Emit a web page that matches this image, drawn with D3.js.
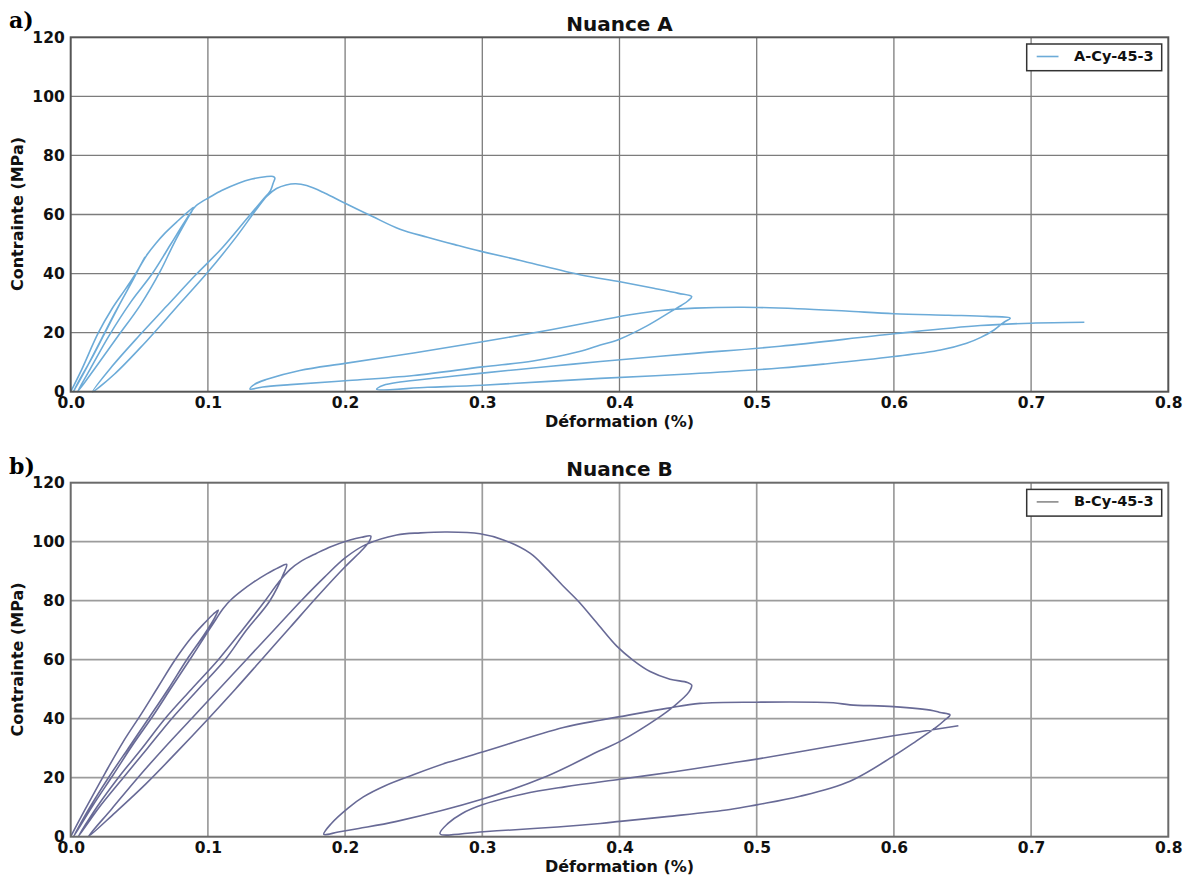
<!DOCTYPE html>
<html><head><meta charset="utf-8">
<script src="https://cdn.jsdelivr.net/npm/d3@7"></script>
<style>body{margin:0;background:#fff;} svg{display:block;}</style>
</head><body>
<svg id="chart" width="1190" height="878"></svg>
<script>
// ---------- tick values / labels ----------
const xTicks = [0, 0.1, 0.2, 0.3, 0.4, 0.5, 0.6, 0.7, 0.8];
const yTicks = [0, 20, 40, 60, 80, 100, 120];
const panelLabels = ["a)", "b)"];
const titles = ["Nuance A", "Nuance B"];
const seriesNames = ["A-Cy-45-3", "B-Cy-45-3"];
const xLabel = "Déformation (%)";
const yLabel = "Contrainte (MPa)";

// ---------- Nuance A : [déformation %, contrainte MPa] ----------
const A_load1 = [[0,0],[0.008,7.5],[0.02,19.8],[0.03,28],[0.04,34.8],[0.048,40.5],[0.054,45.5]];
const A_unload1 = [[0.052,43.8],[0.045,37.5],[0.035,29],[0.025,20],[0.015,11],[0.007,4.5],[0.002,0]];
const A_load2 = [[0.012,8.5],[0.022,17.5],[0.032,26.5],[0.042,35],[0.05,42],[0.056,46.6],[0.062,50.2],[0.0687,53.7],[0.078,57.8],[0.0865,61.3],[0.0894,62.4]];
const A_unload2 = [[0.0885,61.3],[0.085,58.5],[0.075,50],[0.0655,41],[0.051,29.5],[0.034,18.5],[0.019,8.8],[0.005,0]];
const A_load3 = [[0.014,7.5],[0.028,19],[0.044,30.5],[0.0595,40],[0.073,50],[0.083,57.5],[0.091,62.8],[0.0965,64.6],[0.1004,65.6],[0.11,68.1],[0.1223,70.6],[0.132,72],[0.1418,72.8],[0.1475,72.9],[0.1488,72.4]];
const A_unload3 = [[0.1475,70.5],[0.1455,68],[0.14,65],[0.13,59.5],[0.11,48.5],[0.091,39.5],[0.07,29],[0.05,19],[0.03,8.5],[0.016,0]];
const A_load4 = [[0.032,6],[0.053,16],[0.077,28.5],[0.1,40.5],[0.12,52],[0.135,61.5],[0.143,66.2],[0.15,68.8],[0.157,70],[0.164,70.4],[0.172,69.8],[0.185,67.3],[0.2,63.8],[0.22,59.3],[0.24,55],[0.26,52.3],[0.28,49.8],[0.2984,47.6],[0.33,44.2],[0.3712,39.6],[0.4004,37.2],[0.425,35],[0.443,33.3],[0.4526,32.2]];
const A_unload4 = [[0.45,30.8],[0.445,29.2],[0.438,27.3],[0.42,22.3],[0.40,17.8],[0.386,15.8],[0.37,13.5],[0.337,10.4],[0.30,8.4],[0.25,5.5],[0.2,3.7],[0.16,2.4],[0.14,1.6],[0.1307,0.9]];
const A_load5 = [[0.134,2.5],[0.143,4.2],[0.167,7.2],[0.2,9.6],[0.25,13.1],[0.3,16.9],[0.35,21],[0.386,24.2],[0.41,26.2],[0.43,27.5],[0.455,28.3],[0.49,28.6],[0.53,28.1],[0.565,27.3],[0.6,26.4],[0.64,25.9],[0.668,25.5],[0.6848,24.9]];
const A_unload5 = [[0.6805,23.6],[0.673,20.9],[0.663,18.3],[0.653,16.4],[0.634,14.1],[0.60,11.9],[0.55,9.4],[0.517,8.0],[0.45,6.0],[0.386,4.5],[0.3,2.2],[0.26,1.5],[0.223,0.8]];
const A_load6 = [[0.228,2.2],[0.24,3.3],[0.27,4.8],[0.3,6.3],[0.35,8.6],[0.386,10.2],[0.45,12.8],[0.517,15.4],[0.6,19.6],[0.663,22.4],[0.70,23.2],[0.7388,23.5]];

// ---------- Nuance B ----------
const B_load1 = [[0,0],[0.01,8.8],[0.025,21.5],[0.038,32],[0.0517,41.8],[0.064,51],[0.076,59.9],[0.088,67.5],[0.0979,72.6],[0.104,75.5],[0.1076,76.8]];
const B_unload1 = [[0.105,74.3],[0.097,68.3],[0.0846,60],[0.071,50],[0.0566,40],[0.042,30],[0.0275,20],[0.014,10],[0.002,0]];
const B_load2 = [[0.016,10.5],[0.031,21],[0.045,31],[0.06,41],[0.074,51],[0.0875,60.5],[0.1,69.5],[0.106,73.8],[0.111,77.3],[0.117,80.4],[0.125,83.5],[0.133,86.2],[0.1429,89.1],[0.1513,91.2],[0.1574,92.3]];
const B_unload2 = [[0.1555,89.5],[0.1452,80],[0.128,70],[0.1125,60],[0.093,50],[0.0736,40],[0.056,30],[0.0383,20],[0.02,9.5],[0.0055,0]];
const B_load3 = [[0.019,10],[0.0347,20],[0.052,30],[0.0687,40],[0.088,50],[0.1076,60],[0.125,70],[0.1417,80],[0.152,86.5],[0.16,90.6],[0.168,93.4],[0.1793,96.1],[0.19,98.4],[0.2036,100.6],[0.212,101.5],[0.2187,101.9]];
const B_unload3 = [[0.2175,100],[0.212,97],[0.2,91.5],[0.18,81.5],[0.16,71],[0.14,60.5],[0.12,50],[0.1003,40],[0.078,29],[0.055,18],[0.032,8],[0.0128,0]];
const B_load4 = [[0.03,9.5],[0.048,19.5],[0.068,30],[0.088,40],[0.108,50],[0.128,60],[0.148,70],[0.168,80],[0.185,88],[0.2,94.5],[0.215,99],[0.2376,102.3],[0.255,103],[0.2741,103.3],[0.2984,102.7],[0.3154,100.6],[0.3348,96.1],[0.347,90.8],[0.3591,84.9],[0.37,79.8],[0.3834,72.5],[0.398,64.6],[0.41,59.8],[0.4223,56],[0.4368,53.4],[0.4495,52.3],[0.4526,51.4]];
const B_unload4 = [[0.4505,49],[0.4393,44.1],[0.4296,40.7],[0.4004,32.3],[0.3859,29.2],[0.347,20.5],[0.2984,12.5],[0.2376,5.2],[0.21,2.8],[0.195,1.6],[0.1845,0.8]];
const B_load5 = [[0.19,4.5],[0.2024,9.8],[0.2133,13.5],[0.2292,17.3],[0.2497,21],[0.275,25.2],[0.3008,28.8],[0.3591,37],[0.3859,39.5],[0.4004,40.7],[0.4344,43.5],[0.4587,45.2],[0.5,45.6],[0.5558,45.4],[0.568,44.7],[0.5996,44.1],[0.6288,42.7],[0.6337,42.1],[0.6409,41.3]];
const B_unload5 = [[0.6365,39.3],[0.6314,37.3],[0.615,32],[0.5996,27.3],[0.568,18.8],[0.5316,13.7],[0.5,10.8],[0.4805,9.2],[0.4344,6.8],[0.4004,5.2],[0.3859,4.5],[0.3008,1.7],[0.2692,1.0]];
const B_load6 = [[0.275,4.5],[0.285,7.8],[0.3,10.8],[0.33,14.5],[0.36,16.9],[0.4004,19.5],[0.44,22],[0.4805,24.9],[0.5,26.3],[0.55,30.3],[0.5996,34.2],[0.647,37.6]];

const seriesA = [].concat(A_load1, A_unload1, A_load2, A_unload2, A_load3, A_unload3, A_load4, A_unload4, A_load5, A_unload5, A_load6);
const seriesB = [].concat(B_load1, B_unload1, B_load2, B_unload2, B_load3, B_unload3, B_load4, B_unload4, B_load5, B_unload5, B_load6);
const allSeries = [seriesA, seriesB];

// ---------- layout ----------
const svg = d3.select("#chart");
svg.append("rect").attr("width", 1190).attr("height", 878).attr("fill", "#fff");
const plotLeft = 70.7, plotRight = 1168.3;
const panels = [
  {top: 37.3, bottom: 391.7, dy: 0, color: "#6cabd8", legendColor: "#6cabd8", grid: "#7c7c7c", gridW: 1.3, frame: "#555"},
  {top: 482.7, bottom: 836.7, dy: 445.4, color: "#686a96", legendColor: "#8a8a8a", grid: "#9c9c9c", gridW: 1.7, frame: "#6a6a6a"}
];
const sans = "'DejaVu Sans', Verdana, sans-serif";

const x = d3.scaleLinear().domain([0, 0.8]).range([plotLeft, plotRight]);

panels.forEach((p, i) => {
  const y = d3.scaleLinear().domain([0, 120]).range([p.bottom, p.top]);
  const g = svg.append("g");

  // grid
  g.append("g").selectAll("line").data(xTicks.slice(1, -1)).join("line")
    .attr("x1", d => x(d)).attr("x2", d => x(d)).attr("y1", p.top).attr("y2", p.bottom)
    .attr("stroke", p.grid).attr("stroke-width", p.gridW);
  g.append("g").selectAll("line").data(yTicks.slice(1, -1)).join("line")
    .attr("y1", d => y(d)).attr("y2", d => y(d)).attr("x1", plotLeft).attr("x2", plotRight)
    .attr("stroke", p.grid).attr("stroke-width", p.gridW);

  // series
  const line = d3.line().x(d => x(d[0])).y(d => y(d[1])).curve(d3.curveCatmullRom.alpha(0.5));
  g.append("path").datum(allSeries[i]).attr("d", line)
    .attr("fill", "none").attr("stroke", p.color).attr("stroke-width", 1.6)
    .attr("stroke-linejoin", "round");

  // frame
  g.append("rect").attr("x", plotLeft).attr("y", p.top)
    .attr("width", plotRight - plotLeft).attr("height", p.bottom - p.top)
    .attr("fill", "none").attr("stroke", p.frame).attr("stroke-width", 2);

  // axes
  const xAxis = d3.axisBottom(x).tickValues(xTicks).tickFormat(d3.format(".1f")).tickSize(0).tickPadding(5);
  const gx = g.append("g").attr("transform", `translate(0,${p.bottom})`).call(xAxis);
  const yAxis = d3.axisLeft(y).tickValues(yTicks).tickFormat(d3.format("d")).tickSize(0).tickPadding(6);
  const gy = g.append("g").attr("transform", `translate(${plotLeft},0)`).call(yAxis);
  [gx, gy].forEach(ax => {
    ax.select(".domain").remove();
    ax.selectAll("text").attr("font-family", sans).attr("font-weight", "bold")
      .attr("font-size", "15.5px").attr("fill", "#111");
  });

  // title
  g.append("text").attr("x", (plotLeft + plotRight) / 2).attr("y", 30.6 + p.dy)
    .attr("text-anchor", "middle").attr("font-family", sans).attr("font-weight", "bold")
    .attr("font-size", "20px").attr("fill", "#111").text(titles[i]);

  // axis labels
  g.append("text").attr("x", (plotLeft + plotRight) / 2).attr("y", 427 + p.dy)
    .attr("text-anchor", "middle").attr("font-family", sans).attr("font-weight", "bold")
    .attr("font-size", "16px").attr("fill", "#111").text(xLabel);
  g.append("text").attr("transform", `translate(23.3,${214 + p.dy}) rotate(-90)`)
    .attr("text-anchor", "middle").attr("font-family", sans).attr("font-weight", "bold")
    .attr("font-size", "16px").attr("fill", "#111").text(yLabel);

  // panel label
  g.append("text").attr("x", 9).attr("y", 28.4 + p.dy)
    .attr("font-family", "'DejaVu Serif', 'Liberation Serif', serif").attr("font-weight", "bold")
    .attr("font-size", "22px").attr("fill", "#000").text(panelLabels[i]);

  // legend
  const lg = g.append("g").attr("transform", `translate(0,${p.dy})`);
  lg.append("rect").attr("x", 1026.7).attr("y", 44).attr("width", 135).attr("height", 26.7)
    .attr("fill", "#fff").attr("stroke", "#333").attr("stroke-width", 1.5);
  lg.append("line").attr("x1", 1036.7).attr("x2", 1058.5).attr("y1", 56.5).attr("y2", 56.5)
    .attr("stroke", p.legendColor).attr("stroke-width", 1.6);
  lg.append("text").attr("x", 1074).attr("y", 60.8).attr("font-family", sans)
    .attr("font-weight", "bold").attr("font-size", "14.5px").attr("fill", "#111").text(seriesNames[i]);
});
</script>
</body></html>
